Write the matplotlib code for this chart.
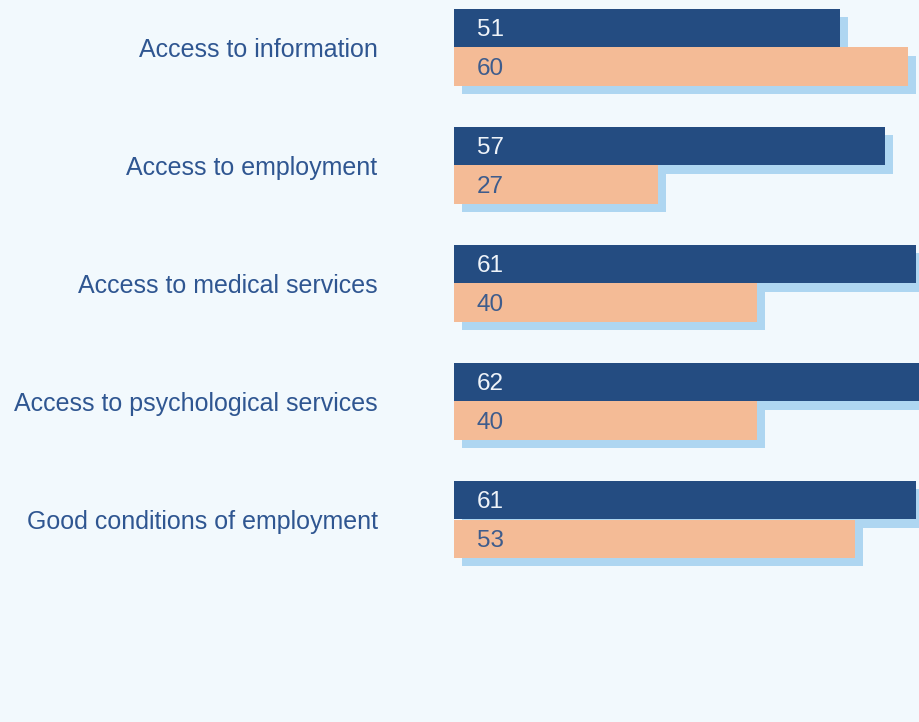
import matplotlib.pyplot as plt
import matplotlib.patheffects as pe

categories = [
    "Access to information",
    "Access to employment",
    "Access to medical services",
    "Access to psychological services",
    "Good conditions of employment",
]
series_dark = [51, 57, 61, 62, 61]
series_peach = [60, 27, 40, 40, 53]

BG = "#f2f9fd"
DARK = "#244c81"
PEACH = "#f4bb96"
SHADOW = "#aed6f1"
LABEL = "#2f5691"

plt.rcParams['font.family'] = ['Liberation Sans', 'DejaVu Sans']

W, H = 920, 722
fig = plt.figure(figsize=(W / 100, H / 100), dpi=100, facecolor=BG)
# axes from x=454px, running a little past the right edge so long bars get cut by the figure
ax_w = W + 20 - 454
ax = fig.add_axes([454 / W, 0, ax_w / W, 1])
ax.set_facecolor(BG)

px_per_unit = 454 / 60.0
ax.set_xlim(0, ax_w / px_per_unit)
pitch = 118.0
ax.set_ylim((H - 47.5) / pitch, -47.5 / pitch)

h = 38.5 / pitch
ys = list(range(len(categories)))
shadow = [pe.SimplePatchShadow(offset=(5.8, -5.8), shadow_rgbFace=SHADOW, alpha=1.0, rho=1.0),
          pe.Normal()]

dark_bars = ax.barh([y - h / 2 for y in ys], series_dark, height=h, color=DARK, zorder=2)
peach_bars = ax.barh([y + h / 2 for y in ys], series_peach, height=h, color=PEACH, zorder=3)
for b in list(dark_bars) + list(peach_bars):
    b.set_path_effects(shadow)

off = 23 / px_per_unit
dy = 2 / pitch
for y, v in zip(ys, series_dark):
    ax.text(off, y - h / 2 + dy, str(v), color="#eef3f9", fontsize=17.5, va="center", ha="left", zorder=5)
for y, v in zip(ys, series_peach):
    ax.text(off, y + h / 2 + dy, str(v), color="#3e5c8c", fontsize=17.5, va="center", ha="left", zorder=5)

ax.set_yticks(ys)
ax.set_yticklabels(categories, fontsize=18, color=LABEL)
ax.tick_params(axis="y", length=0, pad=55)
ax.set_xticks([])
for s in ax.spines.values():
    s.set_visible(False)

plt.savefig("out.png", dpi=100, facecolor=BG)
